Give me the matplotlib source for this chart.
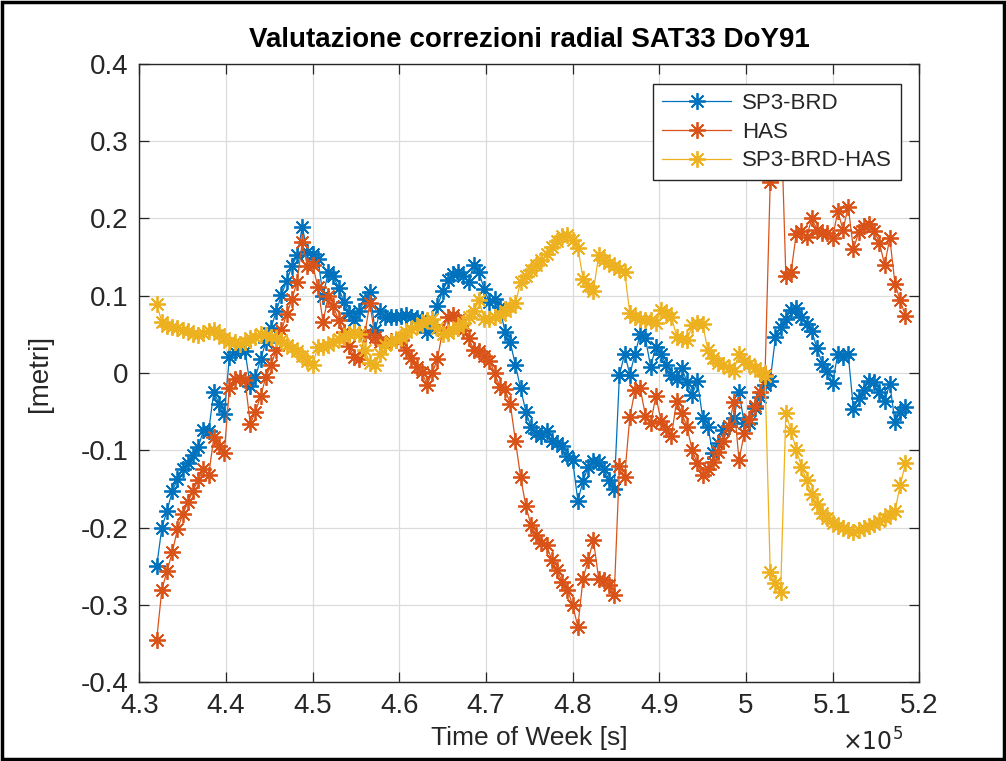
import numpy as np
import matplotlib
matplotlib.use('Agg')
import matplotlib.pyplot as plt
from matplotlib.patches import Rectangle
from matplotlib.ticker import FuncFormatter, MultipleLocator

# time of week [s], one epoch every 600 s
tow = np.arange(432000, 518401, 600)

sp3_brd = [
    -0.250, -0.200, -0.178, -0.153, -0.137, -0.124, -0.116, -0.106, -0.096, -0.074,
    -0.075, -0.024, -0.040, -0.053, 0.021, 0.027, 0.030, 0.028, -0.017, -0.005,
    0.018, 0.040, 0.058, 0.080, 0.101, 0.119, 0.138, 0.152, 0.189, 0.157,
    0.154, 0.148, 0.100, 0.130, 0.125, 0.110, 0.092, 0.078, 0.068, 0.080,
    0.095, 0.105, 0.055, 0.080, 0.072, 0.073, 0.073, 0.074, 0.075, 0.073,
    0.071, 0.070, 0.053, 0.062, 0.086, 0.106, 0.120, 0.128, 0.130, 0.125,
    0.118, 0.140, 0.130, 0.108, 0.092, 0.096, 0.085, 0.053, 0.040, 0.010,
    -0.020, -0.050, -0.070, -0.078, -0.082, -0.075, -0.088, -0.090, -0.094, -0.108,
    -0.113, -0.165, -0.140, -0.121, -0.114, -0.115, -0.124, -0.138, -0.150, -0.003,
    0.025, -0.002, 0.025, 0.050, 0.045, 0.008, 0.034, 0.025, 0.010, -0.002,
    -0.008, 0.006, -0.012, -0.028, -0.010, -0.058, -0.070, -0.104, -0.090, -0.074,
    -0.068, -0.058, -0.025, -0.065, -0.065, -0.045, -0.031, -0.016, -0.010, 0.046,
    0.060, 0.070, 0.082, 0.084, 0.072, 0.063, 0.054, 0.032, 0.012, 0.002,
    -0.013, 0.025, 0.021, 0.024, -0.046, -0.033, -0.022, -0.010, -0.012, -0.024,
    -0.036, -0.014, -0.064, -0.050, -0.044,
]

has = [
    -0.345, -0.280, -0.256, -0.232, -0.202, -0.183, -0.167, -0.152, -0.138, -0.124,
    -0.132, -0.083, -0.094, -0.103, -0.019, -0.008, -0.006, -0.009, -0.066, -0.050,
    -0.030, -0.005, 0.010, 0.030, 0.055, 0.076, 0.095, 0.118, 0.169, 0.138,
    0.140, 0.111, 0.066, 0.100, 0.086, 0.068, 0.053, 0.035, 0.020, 0.018,
    0.050, 0.090, 0.046, 0.040, 0.038, 0.041, 0.043, 0.042, 0.030, 0.019,
    0.008, 0.001, -0.015, 0.000, 0.018, 0.055, 0.072, 0.075, 0.068, 0.055,
    0.045, 0.030, 0.029, 0.022, 0.016, 0.000, -0.018, -0.021, -0.040, -0.088,
    -0.135, -0.172, -0.197, -0.210, -0.220, -0.223, -0.242, -0.255, -0.270, -0.280,
    -0.300, -0.328, -0.266, -0.242, -0.216, -0.266, -0.268, -0.274, -0.287, -0.120,
    -0.134, -0.057, -0.022, -0.020, -0.055, -0.065, -0.030, -0.062, -0.072, -0.082,
    -0.036, -0.052, -0.070, -0.100, -0.117, -0.132, -0.124, -0.115, -0.102, -0.088,
    -0.068, -0.038, -0.113, -0.078, -0.060, -0.043, -0.025, -0.003, 0.247, 0.310,
    0.350, 0.126, 0.130, 0.180, 0.184, 0.176, 0.200, 0.185, 0.181, 0.181,
    0.175, 0.209, 0.185, 0.215, 0.160, 0.182, 0.190, 0.192, 0.184, 0.168,
    0.140, 0.174, 0.115, 0.094, 0.074,
]

sp3_brd_has = [
    0.089, 0.066, 0.061, 0.059, 0.058, 0.056, 0.054, 0.051, 0.049, 0.052,
    0.054, 0.055, 0.050, 0.045, 0.040, 0.040, 0.038, 0.040, 0.045, 0.047,
    0.050, 0.049, 0.047, 0.045, 0.042, 0.036, 0.032, 0.028, 0.022, 0.016,
    0.010, 0.034, 0.034, 0.036, 0.040, 0.044, 0.047, 0.050, 0.053, 0.050,
    0.030, 0.013, 0.010, 0.025, 0.036, 0.040, 0.043, 0.046, 0.053, 0.057,
    0.061, 0.065, 0.068, 0.070, 0.058, 0.051, 0.052, 0.055, 0.059, 0.065,
    0.072, 0.080, 0.094, 0.070, 0.070, 0.072, 0.075, 0.080, 0.085, 0.090,
    0.118, 0.126, 0.133, 0.139, 0.146, 0.154, 0.163, 0.171, 0.177, 0.179,
    0.172, 0.162, 0.122, 0.113, 0.106, 0.152, 0.146, 0.142, 0.138, 0.135,
    0.131, 0.077, 0.073, 0.070, 0.068, 0.068, 0.064, 0.081, 0.078, 0.073,
    0.047, 0.044, 0.042, 0.062, 0.064, 0.063, 0.030, 0.019, 0.013, 0.010,
    0.007, 0.003, 0.025, 0.016, 0.011, 0.007, 0.002, -0.004, -0.257, -0.272,
    -0.283, -0.052, -0.075, -0.099, -0.121, -0.139, -0.156, -0.170, -0.181, -0.188,
    -0.194, -0.198, -0.201, -0.203, -0.205, -0.203, -0.201, -0.198, -0.195, -0.191,
    -0.187, -0.183, -0.178, -0.145, -0.117,
]

plt.rcParams['font.family'] = ['Liberation Sans', 'DejaVu Sans']
plt.rcParams['axes.unicode_minus'] = False
dark = '#262626'

fig = plt.figure(figsize=(10.06, 7.61), dpi=100)
ax = fig.add_axes([0.1385, 0.1034, 0.7753, 0.8130])

# matlab-like asterisk markers
star = (8, 2, 0)
kw = dict(marker=star, ms=12, mew=1.3, lw=0.9)
ax.plot(tow, sp3_brd, '-', color='#0072BD', label='SP3-BRD', **kw)
ax.plot(tow, has, '-', color='#D95319', label='HAS', **kw)
ax.plot(tow, sp3_brd_has, '-', color='#EDB120', label='SP3-BRD-HAS', **kw)

ax.set_xlim(430000, 520000)
ax.set_ylim(-0.4, 0.4)
ax.xaxis.set_major_locator(MultipleLocator(10000))
ax.yaxis.set_major_locator(MultipleLocator(0.1))
ax.xaxis.set_major_formatter(FuncFormatter(lambda v, p: '%g' % round(v / 1e5, 3)))
ax.yaxis.set_major_formatter(FuncFormatter(lambda v, p: '%g' % round(v, 3)))

ax.grid(True, color='#dcdcdc', lw=0.9)
ax.set_axisbelow(True)
for s in ax.spines.values():
    s.set_color(dark)
    s.set_linewidth(1.0)
ax.tick_params(direction='in', top=True, right=True, length=7, width=0.9,
               color=dark, labelcolor=dark, labelsize=20, pad=8)

ax.set_title('Valutazione correzioni radial SAT33 DoY91', fontsize=20,
             fontweight='bold', color='black', pad=12)
ax.set_xlabel('Time of Week [s]', fontsize=19, color=dark, labelpad=5)
ax.set_ylabel('[metri]', fontsize=20, color=dark, labelpad=20)
fig.text(0.898, 0.014, r'$\times10^{5}$', ha='right', va='baseline',
         fontsize=17, color=dark)

leg = ax.legend(loc='upper right', bbox_to_anchor=(0.9765, 0.967), borderaxespad=0,
                fontsize=16, fancybox=False, framealpha=1, edgecolor=dark,
                handlelength=3.1, labelspacing=0.35, borderpad=0.4, handletextpad=0.5)
leg.get_frame().set_linewidth(1.0)
for t in leg.get_texts():
    t.set_color(dark)

fig.patches.append(Rectangle((0.002, 0.002), 0.996, 0.996, transform=fig.transFigure,
                             fill=False, edgecolor='black', lw=2.5))

fig.savefig('out.png', dpi=100)
